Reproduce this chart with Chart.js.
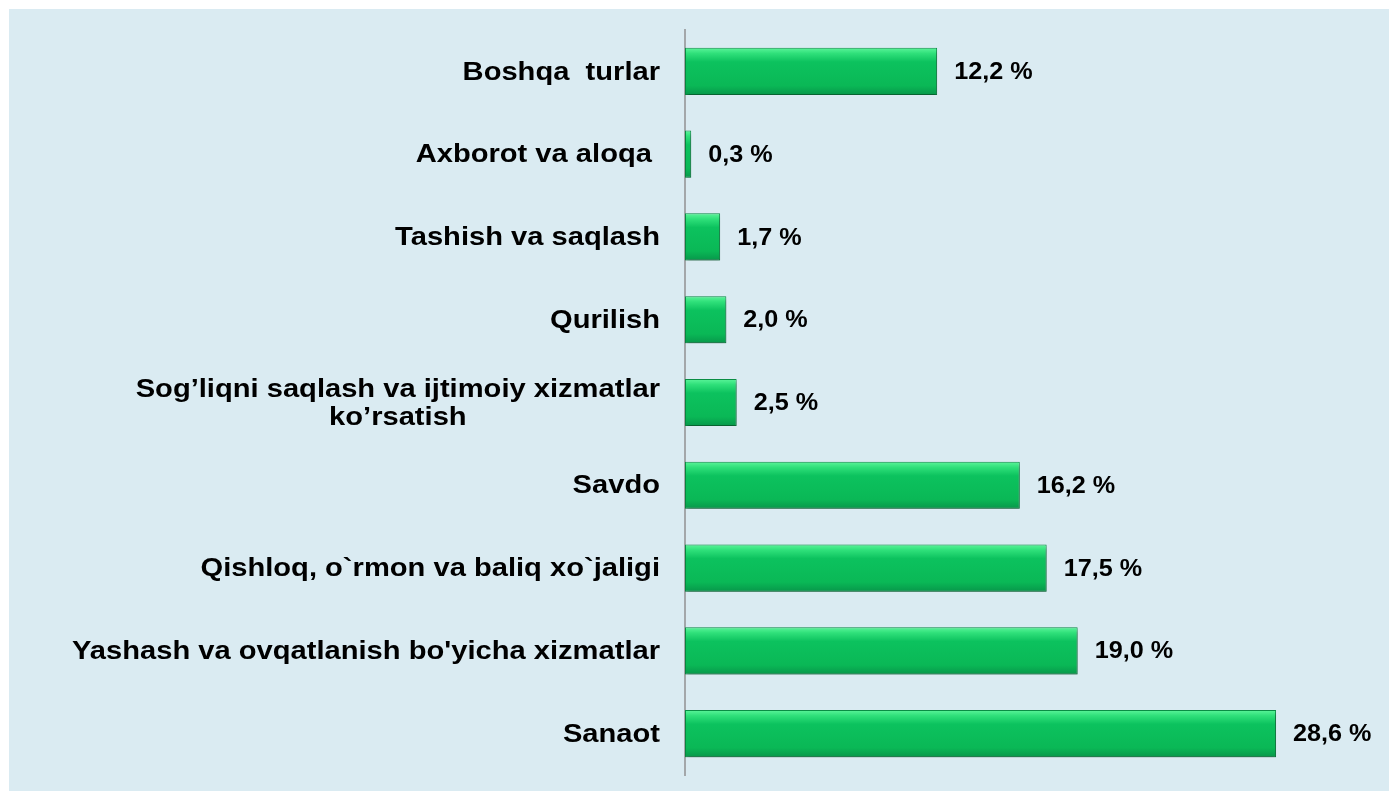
<!DOCTYPE html>
<html>
<head>
<meta charset="utf-8">
<script src="https://cdn.jsdelivr.net/npm/chart.js@4/dist/chart.umd.min.js"></script>
<style>
    body { margin: 0; background: #fff; }
    #panel { position: absolute; left: 9px; top: 9px; width: 1380px; height: 782px; background: #DAEBF2; }
</style>
</head>
<body>
<div id="panel"><canvas id="sectorChart" width="1380" height="782"></canvas></div>
<script>
    // categories, top to bottom
    const categories = [
        ['Boshqa  turlar'],
        ['Axborot va aloqa '],
        ['Tashish va saqlash'],
        ['Qurilish'],
        ['Sog\u2019liqni saqlash va ijtimoiy xizmatlar', 'ko\u2019rsatish'],
        ['Savdo'],
        ['Qishloq, o`rmon va baliq xo`jaligi'],
        ["Yashash va ovqatlanish bo'yicha xizmatlar"],
        ['Sanaot']
    ];
    const shares = [12.2, 0.3, 1.7, 2.0, 2.5, 16.2, 17.5, 19.0, 28.6];
    const axisMax = 30;

    const barPct = 0.57;

    function barGradient(context) {
        const chart = context.chart;
        const area = chart.chartArea;
        if (!area) return '#0bbd5a';
        const y = chart.scales.y.getPixelForValue(context.dataIndex);
        const h = (area.bottom - area.top) / categories.length * barPct;
        const g = chart.ctx.createLinearGradient(0, y - h / 2, 0, y + h / 2);
        g.addColorStop(0, '#5cf59a');
        g.addColorStop(0.12, '#2fe07a');
        g.addColorStop(0.3, '#0cc25e');
        g.addColorStop(0.8, '#0ab856');
        g.addColorStop(1, '#07974a');
        return g;
    }

    // soft shadow under the bars
    const shadowPlugin = {
        id: 'barShadow',
        beforeDatasetsDraw(chart) {
            const ctx = chart.ctx;
            ctx.save();
            ctx.shadowColor = 'rgba(0, 0, 0, 0.35)';
            ctx.shadowBlur = 4;
            ctx.shadowOffsetX = 1;
            ctx.shadowOffsetY = 3;
        },
        afterDatasetsDraw(chart) {
            chart.ctx.restore();
        }
    };

    function stretchedText(ctx, text, x, y, sx) {
        ctx.save();
        ctx.translate(x, y);
        ctx.scale(sx, 1);
        ctx.textAlign = 'left';
        ctx.fillText(text, 0, 0);
        ctx.restore();
    }

    // category names and value labels
    const labelPlugin = {
        id: 'textLabels',
        afterDraw(chart) {
            const ctx = chart.ctx;
            const yScale = chart.scales.y;
            const xScale = chart.scales.x;
            const meta = chart.getDatasetMeta(0);
            const rightEdge = chart.chartArea.left - 25;
            const stretch = 1.12;
            ctx.save();
            ctx.fillStyle = '#000';
            ctx.textBaseline = 'middle';

            categories.forEach((lines, i) => {
                const yc = yScale.getPixelForValue(i);
                ctx.font = 'bold 26px "Liberation Sans", Arial, sans-serif';
                const lineH = 28;
                const widths = lines.map(l => ctx.measureText(l).width * stretch);
                const maxW = Math.max(...widths);
                lines.forEach((line, j) => {
                    const ly = yc + (j - (lines.length - 1) / 2) * lineH + 1;
                    const lx = lines.length > 1
                        ? rightEdge - maxW / 2 - widths[j] / 2
                        : rightEdge - widths[j];
                    stretchedText(ctx, line, lx, ly, stretch);
                });

                // value label
                const bar = meta.data[i];
                ctx.font = 'bold 24px "Liberation Sans", Arial, sans-serif';
                const txt = shares[i].toFixed(1).replace('.', ',') + ' %';
                stretchedText(ctx, txt, xScale.getPixelForValue(shares[i]) + 17, bar.y + 1, 1.05);
            });
            ctx.restore();
        }
    };

    new Chart(document.getElementById('sectorChart'), {
        type: 'bar',
        data: {
            labels: categories,
            datasets: [{
                data: shares,
                backgroundColor: barGradient,
                borderColor: '#0a8f45',
                borderWidth: 1,
                borderSkipped: false,
                barPercentage: barPct,
                categoryPercentage: 1
            }]
        },
        options: {
            indexAxis: 'y',
            responsive: false,
            animation: false,
            devicePixelRatio: 1,
            layout: { padding: { left: 676, right: 84, top: 21, bottom: 16 } },
            plugins: {
                legend: { display: false },
                tooltip: { enabled: false }
            },
            scales: {
                x: { display: false, min: 0, max: axisMax },
                y: {
                    display: true,
                    afterFit(scale) { scale.width = 0; },
                    ticks: { display: false },
                    grid: { display: false },
                    border: { display: true, color: '#A3A7AA', width: 2 }
                }
            }
        },
        plugins: [shadowPlugin, labelPlugin]
    });
</script>
</body>
</html>
